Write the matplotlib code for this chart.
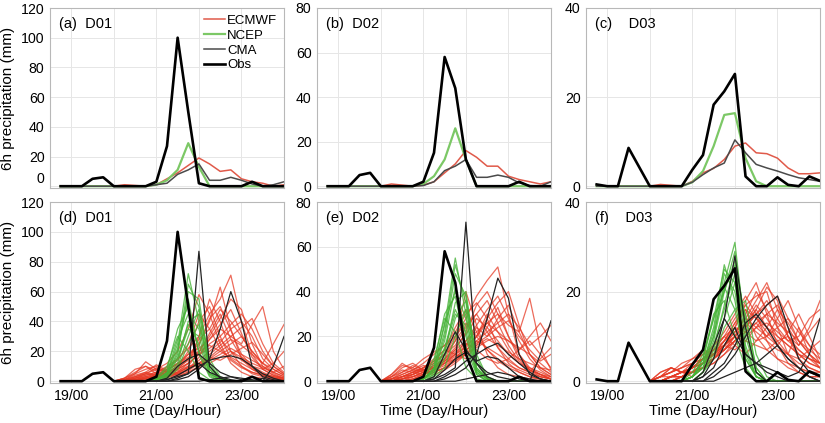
import matplotlib
matplotlib.use('Agg')
import matplotlib.pyplot as plt
import numpy as np

plt.rcParams['font.family'] = ['Liberation Sans', 'DejaVu Sans']

# 6-hourly time axis, hours since 19/00
hours = np.arange(-6, 121, 6)

# deterministic forecasts and observations (top row)
obs = {
    'D01': [0, 0, 0, 5, 6, 0, 0, 0, 0, 3, 27, 100, 50, 2, 0, 0, 0, 0, 3, 0, 0, 0],
    'D02': [0, 0, 0, 5, 6, 0, 0, 0, 0, 2, 15, 58, 44, 12, 0, 0, 0, 0, 2, 0, 0, 0],
    'D03': [0.4, 0, 0, 8.6, 4.3, 0, 0, 0, 0, 3.7, 7, 18.3, 21.3, 25.2, 2.2, 0, 0, 2, 0.3, 0, 2.2, 1.2],
}
ecmwf = {
    'D01': [0, 0, 0, 0, 0, 0, 1, 0.5, 0, 1, 5, 9, 14, 19, 15, 10, 11, 5, 3, 2, 0, 1],
    'D02': [0, 0, 0, 0, 0, 0, 1, 0.5, 0, 0.5, 2, 6, 10, 16, 13, 9, 9, 4.5, 3, 2, 1, 2],
    'D03': [0, 0, 0, 0, 0, 0, 0.4, 0.2, 0, 1.1, 3, 4, 6, 9, 9.7, 7.5, 7.3, 6.3, 4.1, 2.8, 2.8, 3],
}
ncep = {
    'D01': [0, 0, 0, 0, 0, 0, 0, 0, 0, 1, 4, 11, 29, 13, 0, 0, 0, 0, 0, 0, 0, 0],
    'D02': [0, 0, 0, 0, 0, 0, 0, 0, 0, 1, 4.5, 12, 26, 12, 0, 0, 0, 0, 0, 0, 0, 0],
    'D03': [0, 0, 0, 0, 0, 0, 0, 0, 0, 0.9, 3.4, 9, 16, 16.4, 6.3, 1.1, 0, 0, 0, 0, 0, 0],
}
cma = {
    'D01': [0, 0, 0, 0, 0, 0, 0, 0, 0, 1, 2, 8, 11, 15, 4, 4, 6, 4, 1.5, 0, 1, 3],
    'D02': [0, 0, 0, 0, 0, 0, 0, 0, 0, 0.3, 2, 7, 9, 12, 4, 4, 5, 4, 1.5, 0.3, 0, 2],
    'D03': [0, 0, 0, 0, 0, 0, 0, 0, 0, 0.9, 2.6, 4.1, 5.2, 10.4, 7.5, 4.9, 4.1, 3.4, 2.6, 1.9, 1.5, 1.1],
}

# ensemble members (bottom row), values from 20/00 (index 5) to 24/00
ens_start = 5
ecmwf_ens = {
    'D01': [
        [0, 2, 8, 10, 5, 3, 6, 12, 30, 55, 40, 20, 10, 5, 3, 2, 1],
        [0, 0, 3, 5, 8, 12, 20, 35, 58, 45, 25, 12, 6, 3, 2, 1, 0],
        [0, 1, 5, 13, 8, 6, 10, 18, 25, 40, 63, 35, 15, 8, 4, 2, 1],
        [0, 0, 2, 4, 6, 10, 15, 22, 30, 45, 55, 71, 40, 18, 8, 4, 2],
        [0, 0, 1, 3, 5, 4, 8, 15, 28, 35, 48, 40, 30, 20, 12, 6, 3],
        [0, 1, 4, 6, 3, 2, 5, 10, 20, 30, 42, 55, 48, 25, 10, 5, 2],
        [0, 0, 0, 2, 4, 6, 8, 12, 18, 25, 30, 38, 45, 35, 20, 10, 5],
        [0, 0, 2, 3, 2, 5, 10, 20, 40, 50, 30, 15, 10, 6, 4, 2, 1],
        [0, 0, 0, 1, 3, 8, 12, 18, 22, 28, 35, 30, 25, 38, 50, 20, 8],
        [0, 1, 3, 5, 4, 3, 5, 8, 14, 20, 26, 35, 40, 30, 15, 8, 4],
        [0, 0, 1, 2, 3, 5, 7, 10, 12, 15, 20, 25, 30, 20, 12, 25, 38],
        [0, 0, 0, 0, 2, 4, 6, 9, 11, 14, 18, 22, 18, 14, 10, 6, 3],
        [0, 2, 5, 8, 10, 6, 4, 6, 10, 16, 22, 28, 24, 18, 12, 8, 4],
        [0, 0, 1, 2, 4, 7, 12, 16, 20, 24, 20, 16, 12, 8, 5, 3, 2],
        [0, 1, 2, 4, 6, 9, 14, 25, 45, 35, 22, 14, 9, 6, 4, 2, 1],
        [0, 0, 1, 3, 5, 8, 11, 15, 19, 32, 45, 28, 16, 9, 5, 3, 2],
        [0, 0, 2, 5, 9, 6, 4, 8, 16, 28, 38, 48, 32, 16, 8, 4, 2],
        [0, 1, 3, 6, 11, 7, 5, 7, 12, 18, 24, 30, 36, 42, 25, 12, 6],
        [0, 0, 0, 2, 4, 6, 9, 14, 24, 42, 50, 34, 18, 10, 6, 3, 1],
        [0, 0, 1, 2, 3, 4, 6, 9, 12, 16, 14, 18, 22, 26, 18, 10, 5],
        [0, 2, 6, 10, 7, 4, 3, 6, 9, 12, 16, 20, 16, 12, 9, 6, 10],
        [0, 0, 0, 1, 2, 4, 8, 12, 18, 22, 28, 20, 14, 10, 8, 12, 20],
    ],
    'D02': [
        [0, 3, 8, 5, 4, 6, 10, 18, 40, 25, 12, 6, 3, 2, 1, 1, 0],
        [0, 1, 4, 6, 10, 13, 16, 22, 30, 35, 28, 15, 8, 4, 2, 1, 0],
        [0, 0, 2, 4, 6, 8, 12, 20, 28, 38, 45, 51, 30, 12, 5, 2, 1],
        [0, 0, 1, 3, 5, 6, 9, 14, 22, 34, 40, 30, 20, 12, 6, 3, 1],
        [0, 2, 5, 4, 3, 5, 8, 12, 18, 25, 32, 38, 28, 18, 10, 5, 2],
        [0, 0, 0, 2, 4, 7, 10, 14, 18, 22, 26, 30, 25, 22, 37, 15, 5],
        [0, 0, 2, 3, 5, 8, 12, 18, 25, 30, 22, 15, 10, 6, 4, 2, 1],
        [0, 1, 3, 5, 7, 6, 8, 10, 14, 18, 22, 26, 30, 24, 16, 20, 25],
        [0, 0, 1, 2, 3, 5, 8, 12, 16, 20, 28, 35, 40, 25, 12, 6, 3],
        [0, 0, 0, 1, 2, 4, 6, 9, 12, 15, 18, 20, 18, 15, 12, 8, 4],
        [0, 2, 6, 8, 5, 4, 6, 9, 13, 20, 30, 22, 14, 8, 5, 3, 2],
        [0, 0, 1, 2, 4, 6, 9, 13, 17, 14, 10, 8, 10, 14, 18, 12, 6],
        [0, 1, 2, 4, 6, 10, 14, 12, 10, 16, 24, 33, 20, 10, 5, 3, 1],
        [0, 0, 0, 1, 3, 5, 7, 10, 12, 18, 15, 12, 9, 6, 4, 10, 15],
        [0, 1, 3, 5, 8, 12, 16, 20, 26, 20, 14, 9, 6, 4, 2, 1, 0],
        [0, 0, 2, 4, 6, 9, 12, 16, 24, 30, 36, 26, 16, 9, 5, 3, 1],
        [0, 2, 4, 7, 5, 4, 6, 10, 16, 24, 20, 28, 34, 22, 12, 6, 3],
        [0, 0, 1, 2, 4, 6, 9, 12, 15, 20, 26, 22, 18, 14, 20, 26, 18],
        [0, 1, 2, 3, 6, 9, 14, 24, 32, 22, 14, 10, 7, 5, 3, 2, 1],
        [0, 0, 0, 1, 3, 5, 8, 11, 14, 17, 20, 24, 27, 20, 14, 9, 12],
        [0, 3, 7, 6, 4, 3, 5, 8, 12, 16, 19, 16, 13, 10, 8, 6, 5],
        [0, 0, 1, 3, 5, 7, 10, 15, 21, 28, 24, 18, 12, 8, 6, 4, 2],
    ],
    'D03': [
        [0, 1, 3, 2, 2, 3, 5, 8, 12, 18, 22, 15, 8, 4, 2, 1, 1],
        [0, 0, 1, 2, 3, 5, 8, 10, 14, 17, 19, 20, 12, 6, 3, 2, 1],
        [0, 1, 2, 3, 5, 7, 6, 8, 10, 12, 16, 21, 18, 10, 5, 3, 2],
        [0, 0, 1, 1, 2, 4, 6, 9, 12, 16, 14, 11, 8, 6, 12, 8, 4],
        [0, 2, 3, 2, 1, 3, 5, 7, 10, 13, 17, 14, 10, 8, 6, 4, 3],
        [0, 0, 0, 1, 3, 5, 7, 9, 11, 14, 12, 10, 14, 18, 12, 6, 3],
        [0, 0, 1, 2, 4, 6, 8, 11, 15, 19, 15, 9, 5, 3, 2, 1, 1],
        [0, 1, 2, 3, 4, 5, 6, 7, 9, 11, 13, 15, 17, 12, 8, 12, 18],
        [0, 0, 1, 2, 3, 4, 5, 7, 9, 12, 15, 18, 14, 10, 7, 5, 3],
        [0, 0, 0, 1, 2, 3, 4, 6, 8, 10, 12, 13, 11, 9, 7, 5, 4],
        [0, 1, 3, 2, 2, 4, 6, 9, 13, 16, 10, 7, 5, 4, 3, 2, 2],
        [0, 0, 1, 1, 2, 3, 5, 7, 9, 11, 13, 10, 8, 11, 15, 10, 5],
        [0, 0, 0, 1, 2, 4, 7, 10, 8, 6, 9, 12, 16, 13, 9, 6, 4],
        [0, 0, 1, 2, 3, 5, 6, 8, 10, 9, 8, 7, 9, 10, 8, 11, 14],
        [0, 1, 2, 3, 4, 5, 6, 8, 10, 13, 16, 12, 9, 6, 4, 3, 2],
        [0, 0, 1, 2, 3, 4, 6, 8, 11, 14, 18, 22, 16, 10, 6, 4, 3],
        [0, 2, 3, 2, 2, 3, 4, 6, 9, 12, 15, 17, 19, 14, 9, 6, 4],
        [0, 0, 0, 1, 2, 3, 5, 7, 10, 15, 20, 16, 12, 9, 10, 14, 16],
        [0, 1, 1, 2, 3, 5, 7, 10, 12, 11, 9, 10, 12, 14, 11, 8, 6],
        [0, 0, 1, 1, 2, 3, 5, 8, 11, 13, 11, 9, 7, 6, 5, 7, 9],
        [0, 1, 2, 4, 5, 6, 7, 8, 7, 9, 12, 15, 13, 11, 9, 7, 5],
        [0, 0, 1, 2, 3, 4, 6, 9, 13, 17, 14, 12, 10, 8, 6, 5, 4],
    ],
}
ncep_ens = {
    'D01': [
        [0, 0, 0, 0, 1, 5, 25, 72, 40, 8, 1, 0, 0, 0, 0, 0, 0],
        [0, 0, 0, 0, 1, 4, 18, 60, 55, 10, 2, 0, 0, 0, 0, 0, 0],
        [0, 0, 0, 0, 2, 8, 35, 50, 20, 4, 0, 0, 0, 0, 0, 0, 0],
        [0, 0, 0, 0, 1, 3, 12, 40, 45, 8, 1, 0, 0, 0, 0, 0, 0],
        [0, 0, 0, 0, 2, 10, 30, 20, 6, 1, 0, 0, 0, 0, 0, 0, 0],
        [0, 0, 0, 0, 0, 3, 15, 35, 30, 5, 1, 0, 0, 0, 0, 0, 0],
        [0, 0, 0, 0, 1, 6, 22, 55, 18, 3, 0, 0, 0, 0, 0, 0, 0],
        [0, 0, 0, 0, 0, 2, 8, 25, 38, 12, 2, 0, 0, 0, 0, 0, 0],
        [0, 0, 0, 0, 1, 4, 20, 65, 50, 10, 2, 0, 0, 0, 0, 0, 0],
        [0, 0, 0, 0, 1, 6, 28, 45, 35, 6, 1, 0, 0, 0, 0, 0, 0],
        [0, 0, 0, 0, 0, 2, 10, 30, 48, 15, 3, 0, 0, 0, 0, 0, 0],
        [0, 0, 0, 0, 1, 5, 16, 38, 25, 5, 1, 0, 0, 0, 0, 0, 0],
    ],
    'D02': [
        [0, 0, 0, 0, 1, 6, 25, 55, 30, 5, 1, 0, 0, 0, 0, 0, 0],
        [0, 0, 0, 0, 1, 4, 20, 48, 38, 6, 1, 0, 0, 0, 0, 0, 0],
        [0, 0, 0, 0, 2, 8, 30, 38, 15, 3, 0, 0, 0, 0, 0, 0, 0],
        [0, 0, 0, 0, 1, 3, 12, 35, 40, 8, 1, 0, 0, 0, 0, 0, 0],
        [0, 0, 0, 0, 2, 10, 28, 22, 6, 1, 0, 0, 0, 0, 0, 0, 0],
        [0, 0, 0, 0, 0, 3, 14, 30, 25, 4, 0, 0, 0, 0, 0, 0, 0],
        [0, 0, 0, 0, 1, 5, 18, 42, 20, 3, 0, 0, 0, 0, 0, 0, 0],
        [0, 0, 0, 0, 0, 2, 6, 20, 32, 10, 2, 0, 0, 0, 0, 0, 0],
        [0, 0, 0, 0, 1, 5, 22, 52, 35, 6, 1, 0, 0, 0, 0, 0, 0],
        [0, 0, 0, 0, 1, 6, 26, 40, 28, 5, 1, 0, 0, 0, 0, 0, 0],
        [0, 0, 0, 0, 0, 2, 10, 28, 36, 12, 2, 0, 0, 0, 0, 0, 0],
        [0, 0, 0, 0, 1, 4, 15, 32, 22, 4, 1, 0, 0, 0, 0, 0, 0],
    ],
    'D03': [
        [0, 0, 0, 0, 1, 3, 10, 22, 31, 10, 2, 0, 0, 0, 0, 0, 0],
        [0, 0, 0, 0, 1, 4, 12, 26, 18, 5, 1, 0, 0, 0, 0, 0, 0],
        [0, 0, 0, 0, 2, 6, 14, 20, 27, 8, 1, 0, 0, 0, 0, 0, 0],
        [0, 0, 0, 0, 1, 3, 8, 16, 24, 12, 2, 0, 0, 0, 0, 0, 0],
        [0, 0, 0, 0, 1, 5, 15, 18, 10, 3, 0, 0, 0, 0, 0, 0, 0],
        [0, 0, 0, 0, 0, 2, 6, 14, 22, 15, 3, 0, 0, 0, 0, 0, 0],
        [0, 0, 0, 0, 1, 4, 11, 24, 20, 6, 1, 0, 0, 0, 0, 0, 0],
        [0, 0, 0, 0, 0, 2, 5, 12, 16, 18, 6, 1, 0, 0, 0, 0, 0],
        [0, 0, 0, 0, 1, 3, 9, 20, 29, 12, 2, 0, 0, 0, 0, 0, 0],
        [0, 0, 0, 0, 1, 5, 14, 25, 22, 7, 1, 0, 0, 0, 0, 0, 0],
        [0, 0, 0, 0, 0, 2, 7, 17, 26, 14, 3, 0, 0, 0, 0, 0, 0],
        [0, 0, 0, 0, 1, 4, 10, 21, 16, 5, 1, 0, 0, 0, 0, 0, 0],
    ],
}
cma_ens = {
    'D01': [
        [0, 0, 0, 0, 0, 1, 3, 5, 87, 10, 2, 0, 0, 0, 0, 0, 0],
        [0, 0, 0, 0, 0, 0, 1, 3, 8, 15, 35, 60, 40, 10, 3, 1, 0],
        [0, 0, 0, 0, 0, 0, 0, 0, 0, 1, 2, 3, 2, 1, 0, 10, 30],
        [0, 0, 0, 0, 0, 2, 10, 15, 18, 12, 6, 3, 1, 0, 0, 0, 0],
        [0, 0, 0, 0, 0, 0, 2, 5, 10, 14, 16, 17, 15, 10, 5, 2, 0],
        [0, 0, 0, 0, 0, 1, 4, 8, 12, 6, 3, 1, 0, 0, 2, 0, 0],
    ],
    'D02': [
        [0, 0, 0, 0, 0, 1, 3, 6, 71, 8, 2, 0, 0, 0, 0, 0, 0],
        [0, 0, 0, 0, 0, 0, 1, 3, 6, 12, 28, 46, 37, 12, 3, 1, 0],
        [0, 0, 0, 0, 0, 0, 0, 0, 1, 2, 3, 4, 3, 1, 0, 12, 27],
        [0, 0, 0, 0, 0, 2, 12, 22, 14, 8, 4, 2, 1, 0, 0, 0, 0],
        [0, 0, 0, 0, 0, 0, 2, 5, 9, 12, 15, 17, 12, 8, 4, 1, 0],
        [0, 0, 0, 0, 0, 1, 5, 10, 13, 9, 11, 10, 6, 2, 1, 0, 0],
    ],
    'D03': [
        [0, 0, 0, 0, 0, 1, 5, 14, 28, 12, 2, 0, 0, 0, 0, 0, 0],
        [0, 0, 0, 0, 0, 0, 1, 3, 6, 10, 14, 17, 19, 12, 5, 2, 1],
        [0, 0, 0, 0, 0, 0, 0, 1, 2, 3, 4, 3, 2, 1, 2, 6, 14],
        [0, 0, 0, 0, 0, 2, 8, 14, 10, 6, 4, 2, 1, 0, 0, 0, 0],
        [0, 0, 0, 0, 0, 0, 2, 4, 8, 13, 15, 12, 8, 5, 3, 1, 0],
        [0, 0, 0, 0, 0, 1, 3, 8, 12, 6, 4, 6, 8, 5, 3, 1, 0],
    ],
}

domains = ['D01', 'D02', 'D03']
ymax = {'D01': 120, 'D02': 80, 'D03': 40}
ystep = {'D01': 20, 'D02': 20, 'D03': 20}
top_letters = ['(a)', '(b)', '(c)']
bot_letters = ['(d)', '(e)', '(f)']
xtick_pos = [0, 24, 48, 72, 96]
xtick_lab = ['19/00', '', '21/00', '', '23/00']

c_ec = '#e05a4a'
c_ec_ens = '#e63a25'
c_nc = '#7cc866'
c_nc_ens = '#45b236'
c_cma = '#4a4a4a'
spine_c = '#b8b8b8'

fig = plt.figure(figsize=(8.25, 4.23), dpi=100)
lefts = [50, 317, 586]
W, H = 825, 423


def style_ax(ax, dom, bottom_row):
    ax.set_xlim(-12, 120)
    ax.set_ylim(-ymax[dom] * 0.01, ymax[dom])
    ax.set_yticks(np.arange(0, ymax[dom] + 1, ystep[dom]))
    ax.set_xticks(xtick_pos)
    if bottom_row:
        ax.set_xticklabels(xtick_lab)
    else:
        ax.set_xticklabels([])
    ax.grid(True, color='#e6e6e6', lw=0.7)
    ax.set_axisbelow(True)
    for s in ax.spines.values():
        s.set_color(spine_c)
        s.set_linewidth(0.8)
    ax.tick_params(length=0, labelsize=10.2, pad=4)


for k, dom in enumerate(domains):
    # top row
    ax = fig.add_axes([lefts[k] / W, 1 - 188 / H, 234 / W, 180 / H])
    style_ax(ax, dom, False)
    ax.plot(hours, ecmwf[dom], color=c_ec, lw=1.1, label='ECMWF')
    ax.plot(hours, ncep[dom], color=c_nc, lw=1.6, label='NCEP')
    ax.plot(hours, cma[dom], color=c_cma, lw=1.1, label='CMA')
    ax.plot(hours, obs[dom], color='black', lw=1.9, label='Obs')
    gap = '  ' if k < 2 else '    '
    ax.text(0.04, 0.95, top_letters[k] + gap + dom, transform=ax.transAxes,
            ha='left', va='top', fontsize=10.5)
    if k == 0:
        ax.set_ylabel('6h precipitation (mm)', fontsize=11, labelpad=4)
        ax.legend(loc='upper right', frameon=False, fontsize=9.5, handlelength=1.6,
                  handletextpad=0.2, labelspacing=0.2, borderaxespad=0.1)
        ax.get_yticklabels()[0].set_va('bottom')

    # bottom row
    ax = fig.add_axes([lefts[k] / W, 1 - 383 / H, 234 / W, 181 / H])
    style_ax(ax, dom, True)
    h_ens = hours[ens_start:]
    for m in ecmwf_ens[dom]:
        ax.plot(h_ens, m, color=c_ec_ens, lw=0.9, alpha=0.75)
    for m in ncep_ens[dom]:
        ax.plot(h_ens, m, color=c_nc_ens, lw=0.9, alpha=0.8)
    for m in cma_ens[dom]:
        ax.plot(h_ens, m, color='#222222', lw=0.9)
    ax.plot(hours, obs[dom], color='black', lw=1.9)
    ax.text(0.04, 0.95, bot_letters[k] + gap + dom, transform=ax.transAxes,
            ha='left', va='top', fontsize=10.5)
    ax.set_xlabel('Time (Day/Hour)', fontsize=10.5, labelpad=1)
    if k == 0:
        ax.set_ylabel('6h precipitation (mm)', fontsize=11, labelpad=4)

fig.savefig('out.png', dpi=100)
